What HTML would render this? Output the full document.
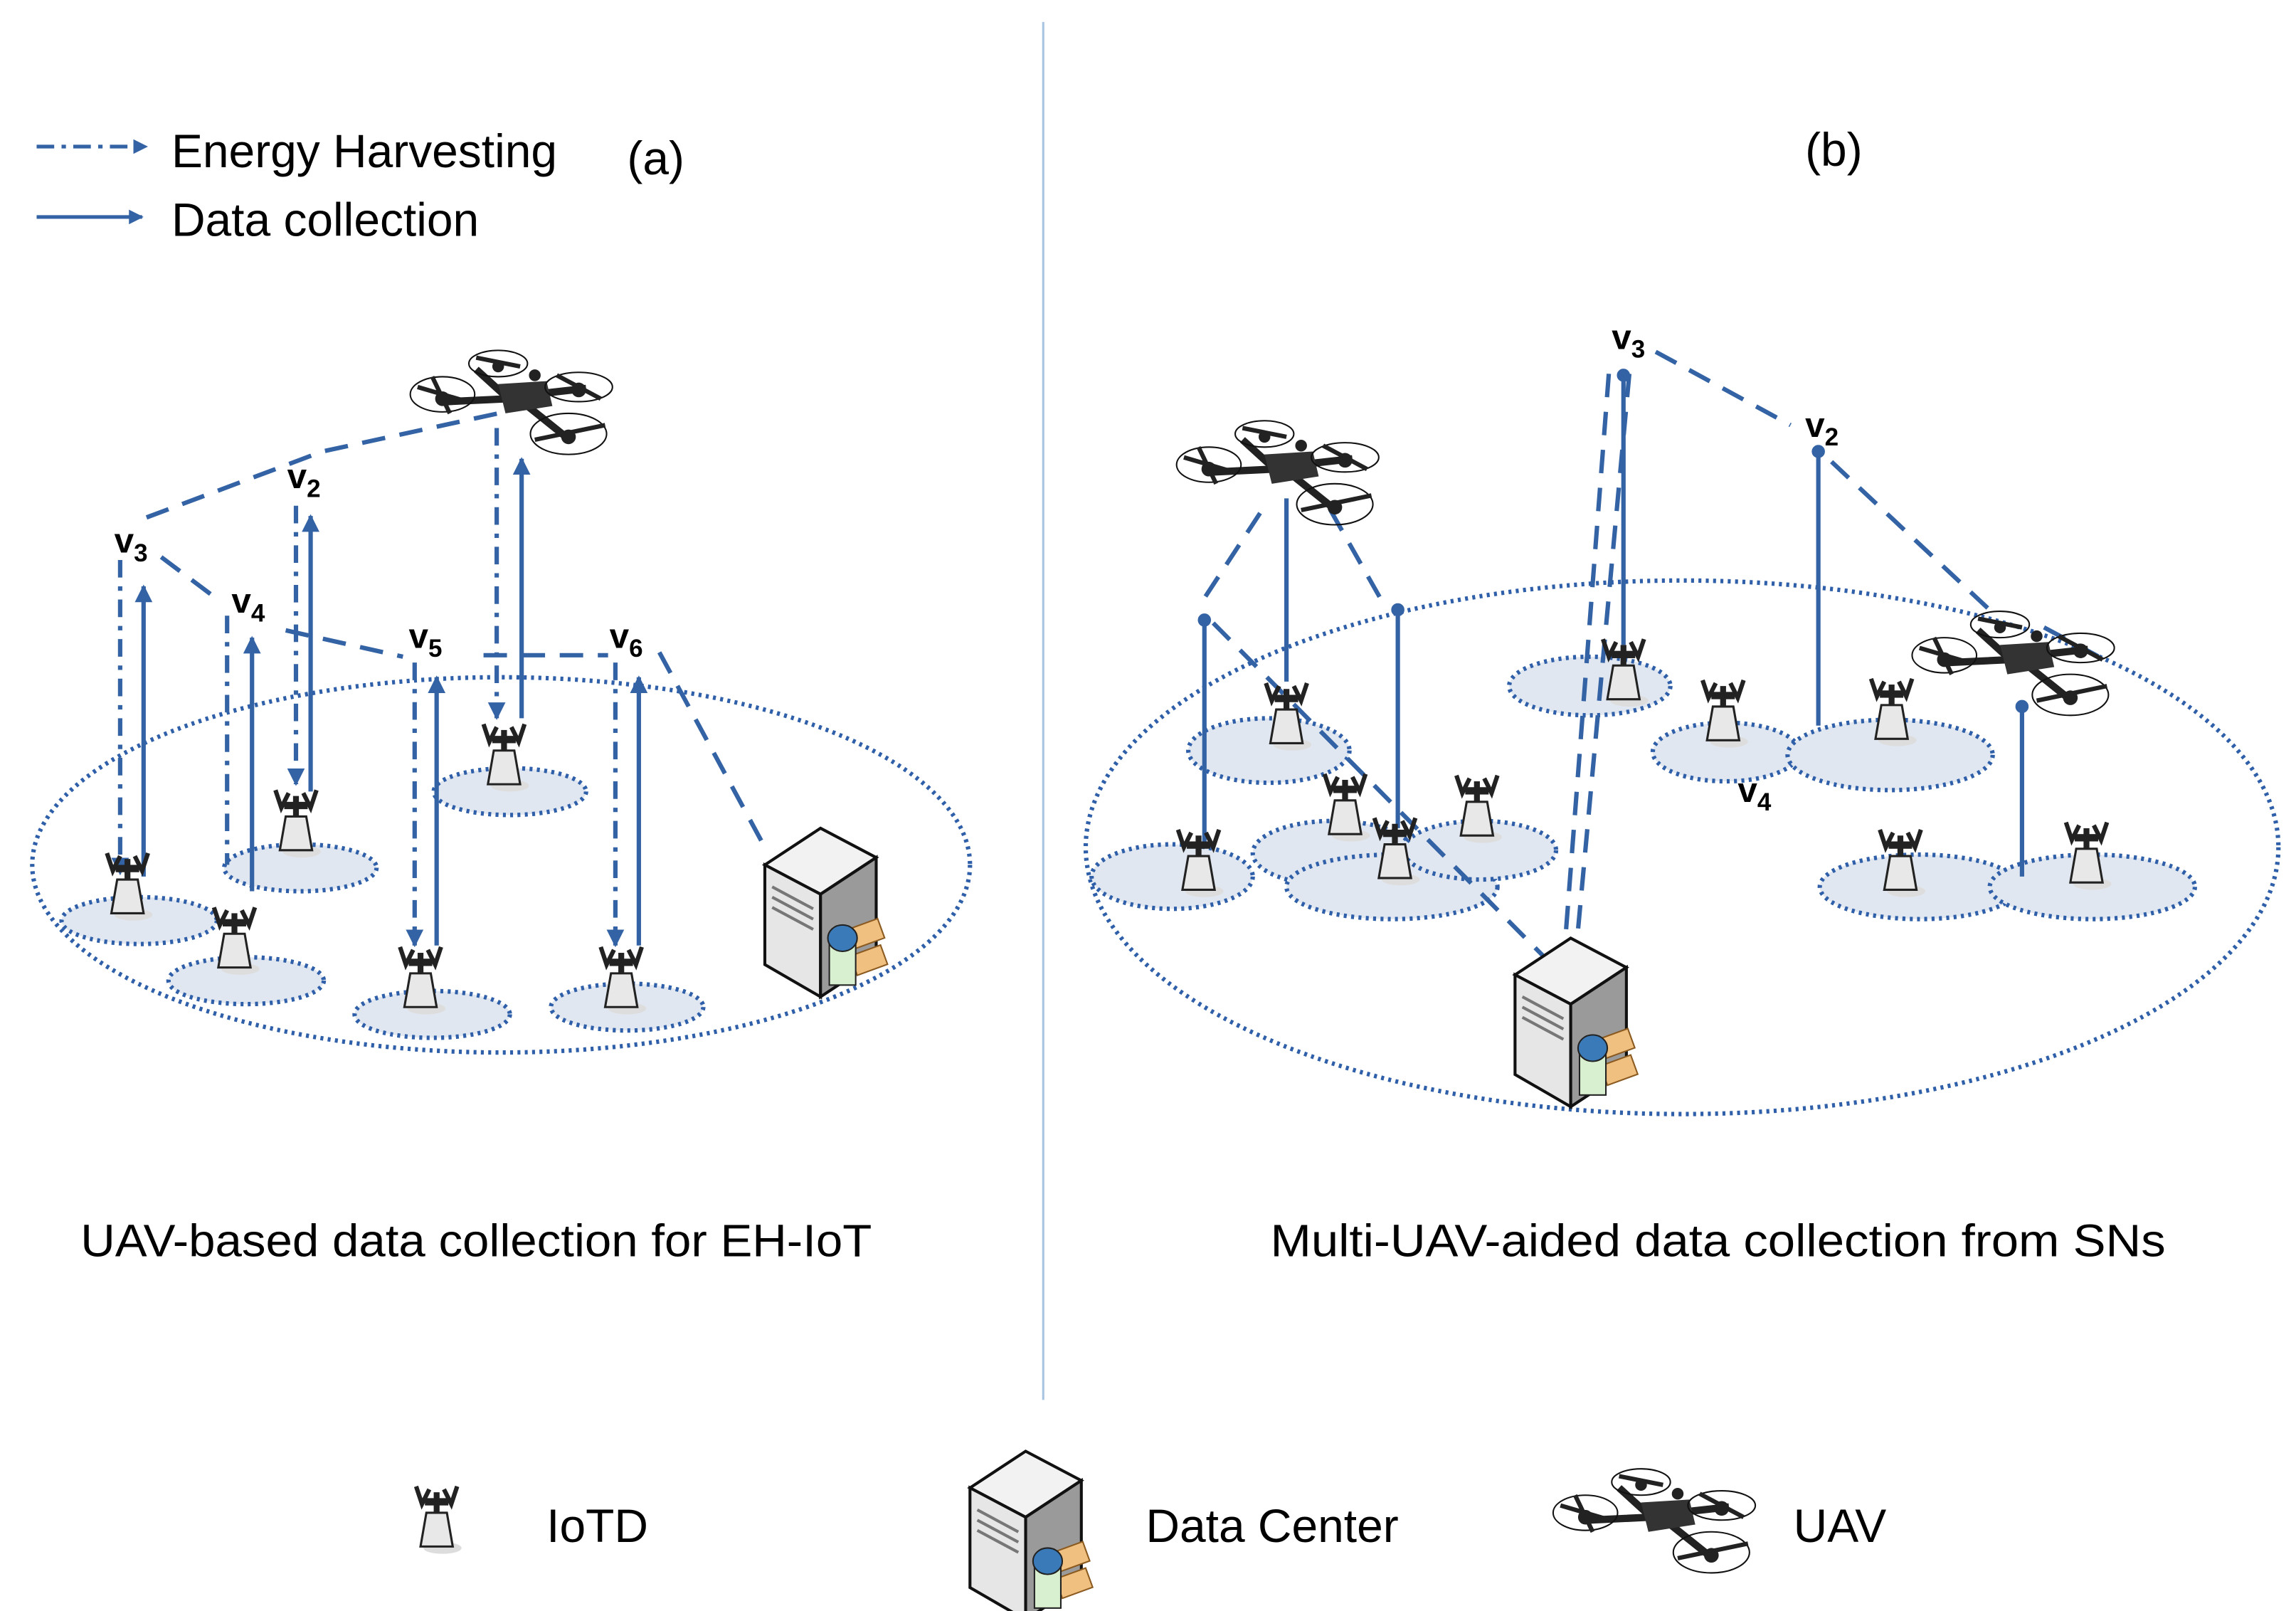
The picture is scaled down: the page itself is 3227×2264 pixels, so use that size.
<!DOCTYPE html>
<html><head><meta charset="utf-8"><style>
html,body{margin:0;padding:0;background:#fff;}
svg{display:block;}
text{font-family:"Liberation Sans",sans-serif;fill:#000;}
</style></head><body>
<svg width="3227" height="2264" viewBox="0 0 1567 1099" preserveAspectRatio="none" xmlns="http://www.w3.org/2000/svg">
<defs>
<marker id="ah" viewBox="0 0 10 10" refX="9" refY="5" markerWidth="4" markerHeight="4" orient="auto-start-reverse"><path d="M0,0L10,5L0,10z" fill="#3463a5"/></marker>
<g id="iot">
 <ellipse cx="4" cy="16" rx="13" ry="4" fill="#ddd"/>
 <path d="M-7,-8 L7,-8 L11,15 L-11,15 Z" fill="#e8e8e8" stroke="#222" stroke-width="1.5"/>
 <rect x="-2" y="-22" width="4" height="14" fill="#222"/>
 <path d="M-14,-26 L-10,-14 L-5,-24 M14,-26 L10,-14 L5,-24" stroke="#222" stroke-width="3" fill="none"/>
 <rect x="-8" y="-18" width="16" height="5" fill="#222"/>
</g>
<g id="uav">
 <path d="M-50,2 L-8,0 M-8,0 L-30,-20 M0,-2 L45,-7 M5,5 L30,25" stroke="#222" stroke-width="5"/>
 <path d="M-15,-10 L18,-12 L22,5 L-10,10 Z" fill="#333"/>
 <circle cx="10" cy="-16" r="4" fill="#222"/>
 <ellipse cx="-53" cy="-3" rx="22" ry="12" fill="none" stroke="#111" stroke-width="1"/>
 <ellipse cx="-15" cy="-24" rx="20" ry="9" fill="none" stroke="#111" stroke-width="1"/>
 <ellipse cx="40" cy="-8" rx="23" ry="10" fill="none" stroke="#111" stroke-width="1"/>
 <ellipse cx="33" cy="24" rx="26" ry="14" fill="none" stroke="#111" stroke-width="1"/>
 <path d="M-70,-8 L-36,2 M-60,-15 L-48,10 M-30,-28 L0,-22 M25,-16 L55,0 M10,28 L58,18" stroke="#222" stroke-width="3"/>
 <circle cx="-53" cy="0" r="5" fill="#222"/><circle cx="-15" cy="-22" r="4" fill="#222"/><circle cx="40" cy="-6" r="5" fill="#222"/><circle cx="33" cy="26" r="5" fill="#222"/>
</g>
<g id="srv">
 <path d="M-38,-20 L0,-45 L38,-25 L0,0 Z" fill="#f2f2f2" stroke="#111" stroke-width="2"/>
 <path d="M-38,-20 L0,0 L0,70 L-38,48 Z" fill="#e6e6e6" stroke="#111" stroke-width="2"/>
 <path d="M0,0 L38,-25 L38,45 L0,70 Z" fill="#9a9a9a" stroke="#111" stroke-width="2"/>
 <path d="M-33,-5 L-5,10 M-33,2 L-5,17 M-33,9 L-5,24" stroke="#777" stroke-width="2"/>
 <rect x="20" y="20" width="22" height="14" fill="#f0c080" stroke="#8a5a20" transform="rotate(-20 31 27)"/>
 <rect x="22" y="38" width="22" height="14" fill="#f0c080" stroke="#8a5a20" transform="rotate(-20 33 45)"/>
 <rect x="6" y="32" width="18" height="30" fill="#d8f0d0" stroke="#222"/>
 <ellipse cx="15" cy="30" rx="10" ry="9" fill="#3a7ab8" stroke="#222"/>
</g>
</defs>

<line x1="712" y1="15" x2="712" y2="955" stroke="#a9c4e0" stroke-width="1.5"/>

<line x1="25" y1="100" x2="100" y2="100" stroke="#3463a5" stroke-width="2.5" stroke-dasharray="12,5,3,5" marker-end="url(#ah)"/>
<line x1="25" y1="148" x2="97" y2="148" stroke="#3463a5" stroke-width="2.5" marker-end="url(#ah)"/>
<text x="117" y="114" font-size="32">Energy Harvesting</text>
<text x="117" y="161" font-size="32">Data collection</text>
<text x="428" y="119" font-size="32">(a)</text>
<text x="1232" y="113" font-size="32">(b)</text>

<g fill="#e1e7f0" stroke="#2e5fa8" stroke-width="3" stroke-dasharray="2,3">
 <ellipse cx="342" cy="590" rx="320" ry="128" fill="none"/>
 <ellipse cx="95" cy="628" rx="53" ry="16"/>
 <ellipse cx="168" cy="669" rx="53" ry="16"/>
 <ellipse cx="205" cy="592" rx="52" ry="16"/>
 <ellipse cx="295" cy="692" rx="53" ry="16"/>
 <ellipse cx="348" cy="540" rx="52" ry="16"/>
 <ellipse cx="428" cy="687" rx="52" ry="16"/>
</g>
<g stroke="#3463a5" stroke-width="3" fill="none" stroke-dasharray="16,10">
 <polyline points="100,353 220,308 340,282"/>
 <line x1="110" y1="380" x2="150" y2="410"/>
 <line x1="195" y1="430" x2="275" y2="448"/>
 <line x1="330" y1="447" x2="415" y2="447"/>
 <line x1="450" y1="445" x2="522" y2="578"/>
</g>
<g stroke="#3463a5" stroke-width="3" fill="none" stroke-dasharray="12,6,3,6">
 <line x1="82" y1="382" x2="82" y2="596" marker-end="url(#ah)"/>
 <line x1="155" y1="420" x2="155" y2="590"/>
 <line x1="202" y1="345" x2="202" y2="535" marker-end="url(#ah)"/>
 <line x1="283" y1="452" x2="283" y2="645" marker-end="url(#ah)"/>
 <line x1="420" y1="452" x2="420" y2="645" marker-end="url(#ah)"/>
 <line x1="339" y1="292" x2="339" y2="490" marker-end="url(#ah)"/>
</g>
<g stroke="#3463a5" stroke-width="3" fill="none">
 <line x1="98" y1="598" x2="98" y2="400" marker-end="url(#ah)"/>
 <line x1="172" y1="608" x2="172" y2="435" marker-end="url(#ah)"/>
 <line x1="212" y1="540" x2="212" y2="352" marker-end="url(#ah)"/>
 <line x1="298" y1="645" x2="298" y2="462" marker-end="url(#ah)"/>
 <line x1="436" y1="645" x2="436" y2="462" marker-end="url(#ah)"/>
 <line x1="356" y1="490" x2="356" y2="313" marker-end="url(#ah)"/>
</g>
<use href="#iot" x="87" y="608"/><use href="#iot" x="160" y="645"/><use href="#iot" x="202" y="565"/>
<use href="#iot" x="287" y="672"/><use href="#iot" x="344" y="520"/><use href="#iot" x="424" y="672"/>
<use href="#uav" x="355" y="272"/>
<use href="#srv" x="560" y="610"/>
<g font-size="24" font-weight="bold">
 <text x="78" y="377">v<tspan font-size="17" dy="6">3</tspan></text>
 <text x="196" y="333">v<tspan font-size="17" dy="6">2</tspan></text>
 <text x="158" y="418">v<tspan font-size="17" dy="6">4</tspan></text>
 <text x="279" y="442">v<tspan font-size="17" dy="6">5</tspan></text>
 <text x="416" y="442">v<tspan font-size="17" dy="6">6</tspan></text>
</g>

<g fill="#e1e7f0" stroke="#2e5fa8" stroke-width="3" stroke-dasharray="2,3">
 <ellipse cx="1148" cy="578" rx="407" ry="182" fill="none"/>
 <ellipse cx="1085" cy="468" rx="55" ry="20"/>
 <ellipse cx="866" cy="512" rx="55" ry="22"/>
 <ellipse cx="1178" cy="513" rx="50" ry="20"/>
 <ellipse cx="1290" cy="515" rx="70" ry="24"/>
 <ellipse cx="800" cy="598" rx="55" ry="22"/>
 <ellipse cx="910" cy="582" rx="55" ry="22"/>
 <ellipse cx="950" cy="605" rx="72" ry="22"/>
 <ellipse cx="1010" cy="580" rx="52" ry="20"/>
 <ellipse cx="1310" cy="605" rx="68" ry="22"/>
 <ellipse cx="1428" cy="605" rx="70" ry="22"/>
</g>
<g stroke="#3463a5" stroke-width="3" fill="none" stroke-dasharray="16,10">
 <line x1="860" y1="350" x2="822" y2="408"/>
 <line x1="908" y1="348" x2="942" y2="408"/>
 <line x1="828" y1="425" x2="1063" y2="662"/>
 <line x1="1098" y1="255" x2="1068" y2="645"/>
 <line x1="1112" y1="255" x2="1076" y2="645"/>
 <line x1="1130" y1="240" x2="1222" y2="290"/>
 <line x1="1250" y1="315" x2="1360" y2="418"/>
 <line x1="1395" y1="428" x2="1440" y2="452"/>
</g>
<g stroke="#3463a5" stroke-width="3" fill="#3463a5">
 <line x1="878" y1="340" x2="878" y2="465"/>
 <line x1="822" y1="423" x2="822" y2="578"/><circle cx="822" cy="423" r="3"/>
 <line x1="954" y1="416" x2="954" y2="565"/><circle cx="954" cy="416" r="3"/>
 <line x1="1108" y1="256" x2="1108" y2="440"/><circle cx="1108" cy="256" r="3"/>
 <line x1="1241" y1="308" x2="1241" y2="495"/><circle cx="1241" cy="308" r="3"/>
 <line x1="1380" y1="482" x2="1380" y2="598"/><circle cx="1380" cy="482" r="3"/>
</g>
<use href="#iot" x="1108" y="462"/><use href="#iot" x="878" y="492"/><use href="#iot" x="1176" y="490"/>
<use href="#iot" x="1291" y="489"/><use href="#iot" x="818" y="592"/><use href="#iot" x="918" y="554"/>
<use href="#iot" x="952" y="584"/><use href="#iot" x="1008" y="555"/><use href="#iot" x="1297" y="592"/>
<use href="#iot" x="1424" y="587"/>
<use href="#uav" x="878" y="320"/>
<use href="#uav" x="1380" y="450"/>
<use href="#srv" x="1072" y="685"/>
<g font-size="24" font-weight="bold">
 <text x="1100" y="238">v<tspan font-size="17" dy="6">3</tspan></text>
 <text x="1232" y="298">v<tspan font-size="17" dy="6">2</tspan></text>
 <text x="1186" y="547">v<tspan font-size="17" dy="6">4</tspan></text>
</g>

<text x="55" y="857" font-size="31" textLength="540" lengthAdjust="spacingAndGlyphs">UAV-based data collection for EH-IoT</text>
<text x="867" y="857" font-size="31" textLength="611" lengthAdjust="spacingAndGlyphs">Multi-UAV-aided data collection from SNs</text>

<use href="#iot" x="298" y="1040"/>
<text x="373" y="1052" font-size="32">IoTD</text>
<use href="#srv" x="700" y="1035"/>
<text x="782" y="1052" font-size="32">Data Center</text>
<use href="#uav" x="1135" y="1035"/>
<text x="1224" y="1052" font-size="32">UAV</text>
</svg>
</body></html>
